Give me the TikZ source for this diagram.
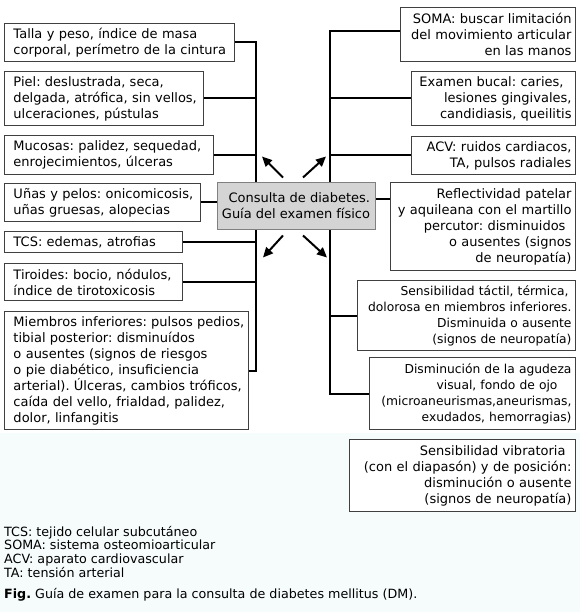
\documentclass[tikz,border=0pt]{standalone}
\usepackage{fontspec}
\setmainfont{DejaVu Sans}
\frenchspacing
\usetikzlibrary{arrows.meta,backgrounds}

\definecolor{boxline}{gray}{0.25}
\definecolor{cfill}{gray}{0.83}
\definecolor{cline}{gray}{0.5}
\definecolor{pagetint}{rgb}{0.965,0.984,0.984}

\begin{document}
\begin{tikzpicture}[x=1pt, y=-1pt,
    box/.style={draw=boxline, line width=1pt, fill=white, inner xsep=0pt, inner ysep=0pt,
      font=\fontsize{13}{16}\selectfont},
    lbox/.style={box, anchor=north west, align=left,
      execute at begin node={\hyphenpenalty=10000 \leftskip=9pt \rightskip=0pt plus 1fil minus 8pt}},
    rbox/.style={box, anchor=north east, align=right,
      execute at begin node={\hyphenpenalty=10000 \rightskip=4pt minus 3pt \leftskip=0pt plus 1fil minus 3pt}},
    small/.style={font=\fontsize{12.3}{16}\selectfont},
    link/.style={line width=2pt},
    arr/.style={line width=2pt, -{Triangle[length=10pt,width=9pt]}},
    legend/.style={anchor=base west, inner sep=0pt, font=\fontsize{12.7}{14}\selectfont}]
    \useasboundingbox (0,0) rectangle (580,612);

    % Left column: general examination
    \node[lbox, text width=230pt, minimum height=38pt] (b1) at (4,23) {Talla y peso, índice de masa\\corporal, perímetro de la cintura};
    \node[lbox, text width=199pt, minimum height=54pt] (b2) at (4,71) {Piel: deslustrada, seca,\\delgada, atrófica, sin vellos,\\ulceraciones, pústulas};
    \node[lbox, text width=209pt, minimum height=39pt] (b3) at (4,135) {Mucosas: palidez, sequedad,\\enrojecimientos, úlceras};
    \node[lbox, text width=196pt, minimum height=38pt] (b4) at (4,183) {Uñas y pelos: onicomicosis,\\uñas gruesas, alopecias};
    \node[lbox, text width=178pt, minimum height=21pt] (b5) at (4,231) {TCS: edemas, atrofias};
    \node[lbox, text width=178pt, minimum height=37pt] (b6) at (4,263) {Tiroides: bocio, nódulos,\\índice de tirotoxicosis};
    \node[lbox, text width=244pt, minimum height=118pt] (b7) at (4,311) {Miembros inferiores: pulsos pedios,\\tibial posterior: disminuídos\\o ausentes (signos de riesgos\\o pie diabético, insuficiencia\\arterial). Úlceras, cambios tróficos,\\caída del vello, frialdad, palidez,\\dolor, linfangitis};

    % Right column: specific findings
    \node[rbox, text width=175pt, minimum height=54pt] (r1) at (576,7) {SOMA: buscar limitación\\del movimiento articular\\en las manos};
    \node[rbox, text width=164pt, minimum height=54pt] (r2) at (576,71) {Examen bucal: caries,\kern8pt\\lesiones gingivales,\\candidiasis, queilitis};
    \node[rbox, text width=164pt, minimum height=38pt] (r3) at (576,136) {ACV: ruidos cardiacos,\\TA, pulsos radiales};
    \node[rbox, text width=185pt, minimum height=88pt] (r4) at (576,182) {Reflectividad patelar\\y aquileana con el martillo\\percutor: disminuidos\kern6pt\\o ausentes (signos\\de neuropatía)};
    \node[rbox, small, text width=218pt, minimum height=70pt] (r5) at (576,280) {Sensibilidad táctil, térmica,\kern3pt\\dolorosa en miembros inferiores.\\Disminuida o ausente\\(signos de neuropatía)};
    \node[rbox, small, text width=206pt, minimum height=72pt] (r6) at (576,357) {Disminución de la agudeza\\visual, fondo de ojo\kern14pt\\(microaneurismas,aneurismas,\\exudados, hemorragias)};
    \node[rbox, text width=226pt, minimum height=72pt] (r7) at (576,439) {Sensibilidad vibratoria\kern6pt\\(con el diapasón) y de posición:\\disminución o ausente\\(signos de neuropatía)};

    % Central box
    \node[draw=cline, line width=1pt, fill=cfill, minimum width=158pt, minimum height=46pt, align=right,
      font=\fontsize{13}{16}\selectfont] (c) at (296,206) {Consulta de diabetes.\\Guía del examen físico};

    % Spines behind the boxes
    \begin{scope}[on background layer]
        \fill[pagetint] (0,433) rectangle (580,612);
        \path (b7.east) ++(7,0) coordinate (lbot);
        \draw[link] (b1.east) -| (lbot) -- (b7.east);
        \foreach \n in {b2,b3,b4,b5,b6}
            \draw[link] (\n.east) -- (\n.east -| lbot);
        \path (r6.west) ++(-39,0) coordinate (rbot);
        \draw[link] ([yshift=3pt]r1.west) -| (rbot) -- (r6.west);
        \foreach \n in {r2,r3,r5}
            \draw[link] (\n.west) -- (\n.west -| rbot);
        \draw[link] ([yshift=7pt]c.east) -- ([yshift=7pt]c.east -| r4.west);
    \end{scope}

    % Arrows out of the central box
    \draw[arr] (c.north) ++(-13,-5) -- ++(-21,-21);
    \draw[arr] (c.north) ++(7,-5) -- ++(23,-21);
    \draw[arr] (c.south) ++(-13,6) -- ++(-20,22);
    \draw[arr] (c.south) ++(7,6) -- ++(24,22);

    % Abbreviations and caption
    \foreach \t [count=\i] in {TCS: tejido celular subcutáneo, SOMA: sistema osteomioarticular,
        ACV: aparato cardiovascular, TA: tensión arterial}
        \node[legend] (leg\i) at (4,522.5+13.7*\i) {\t};
    \node[legend] (fig) at (4,598) {\textbf{Fig.} Guía de examen para la consulta de diabetes mellitus (DM).};
\end{tikzpicture}
\end{document}
